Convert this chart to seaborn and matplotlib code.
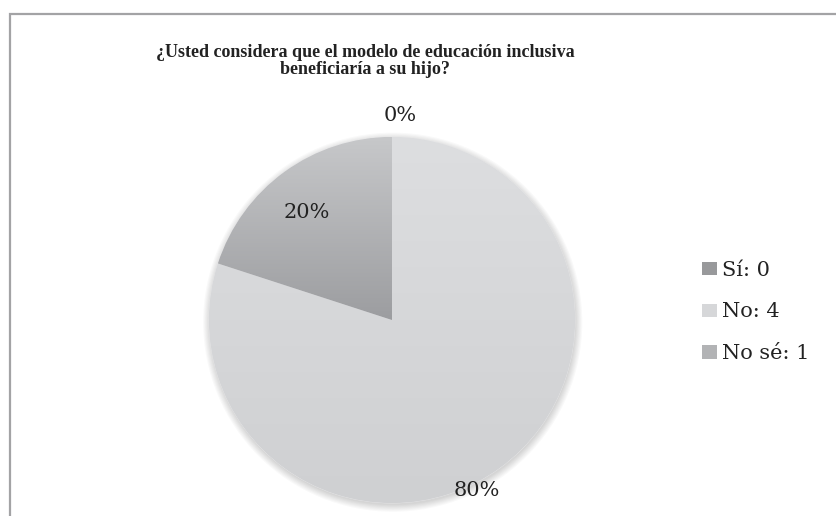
import numpy as np
import matplotlib
matplotlib.use("Agg")
import matplotlib.pyplot as plt
import seaborn as sns
from matplotlib.colors import LinearSegmentedColormap
from matplotlib.patches import Rectangle, Circle

# ==========================================
# Data
# ==========================================
title = "¿Usted considera que el modelo de educación inclusiva\nbeneficiaría a su hijo?"
categories = ["Sí", "No", "No sé"]
counts = [0, 4, 1]

# ==========================================
# Style
# ==========================================
sns.set_theme(style="white")
plt.rcParams['font.family'] = ['DejaVu Serif']

# top / bottom of the vertical gradient for each slice
top_colors = ['#b0b1b3', '#dddee0', '#c7c8ca']
bottom_colors = ['#7f8082', '#cfd0d2', '#9c9da0']
mid_colors = ['#98999b', '#d6d7d9', '#b2b3b5']

fig = plt.figure(figsize=(8.37, 5.16), dpi=100)

# outer chart frame (right and bottom fall outside the picture)
fig.patches.append(Rectangle((9.5 / 837, -0.1), 1.2, 1 - 13.5 / 516 + 0.1,
                             transform=fig.transFigure, fill=False,
                             edgecolor='#a3a3a5', linewidth=1.6))

ax = fig.add_axes([209 / 837, 13 / 516, 366 / 837, 366 / 516])

wedges, _, autotexts = ax.pie(
    counts, colors=mid_colors, startangle=90, counterclock=False,
    autopct=lambda p: f"{p:.0f}%",
    wedgeprops=dict(linewidth=0.5, edgecolor='#e8e8ea'),
    textprops=dict(fontsize=15, color='#222222'))

ax.set_aspect('equal')
ax.axis('off')

# soft drop shadow behind the pie
for k in range(7):
    ax.add_patch(Circle((0.004, -0.012), 1.0 + 0.006 * k, color='black',
                        alpha=0.025, zorder=0, clip_on=False, linewidth=0))

# vertical gradient fill clipped to each wedge
for w, c0, c1 in zip(wedges, top_colors, bottom_colors):
    ext = w.get_path().get_extents()
    if ext.height <= 0 or ext.width <= 0:
        continue
    cmap = LinearSegmentedColormap.from_list('g', [c1, c0])
    grad = np.linspace(0, 1, 256).reshape(-1, 1)
    im = ax.imshow(grad, cmap=cmap, origin='lower', aspect='auto',
                   extent=(ext.x0, ext.x1, ext.y0, ext.y1), zorder=w.get_zorder() + 0.1)
    im.set_clip_path(w)
ax.set_xlim(-1, 1)
ax.set_ylim(-1, 1)

# data label placement (angle in degrees, distance in radii), order = categories
label_pos = [(87.8, 1.12), (-63.7, 1.04), (128.5, 0.75)]
for t, (ang, dist) in zip(autotexts, label_pos):
    a = np.deg2rad(ang)
    t.set_position((dist * np.cos(a), dist * np.sin(a)))
    t.set_zorder(5)
    t.set_clip_on(False)

# legend
leg = fig.legend(wedges, [f"{c}: {n}" for c, n in zip(categories, counts)],
                 loc='center left', bbox_to_anchor=(702 / 837, 1 - 312 / 516),
                 frameon=False, fontsize=15, handlelength=0.72, handleheight=0.6,
                 handletextpad=0.25, labelspacing=1.1, borderpad=0, borderaxespad=0)
for h in leg.legend_handles:
    h.set_edgecolor('none')
for txt in leg.get_texts():
    txt.set_color('#222222')

fig.text(365 / 837, 1 - 61 / 516, title, ha='center', va='center',
         fontsize=13, fontweight='bold', color='#222222', linespacing=1.0,
         family=['Liberation Serif', 'DejaVu Serif'])

plt.savefig("out.png", dpi=100)
